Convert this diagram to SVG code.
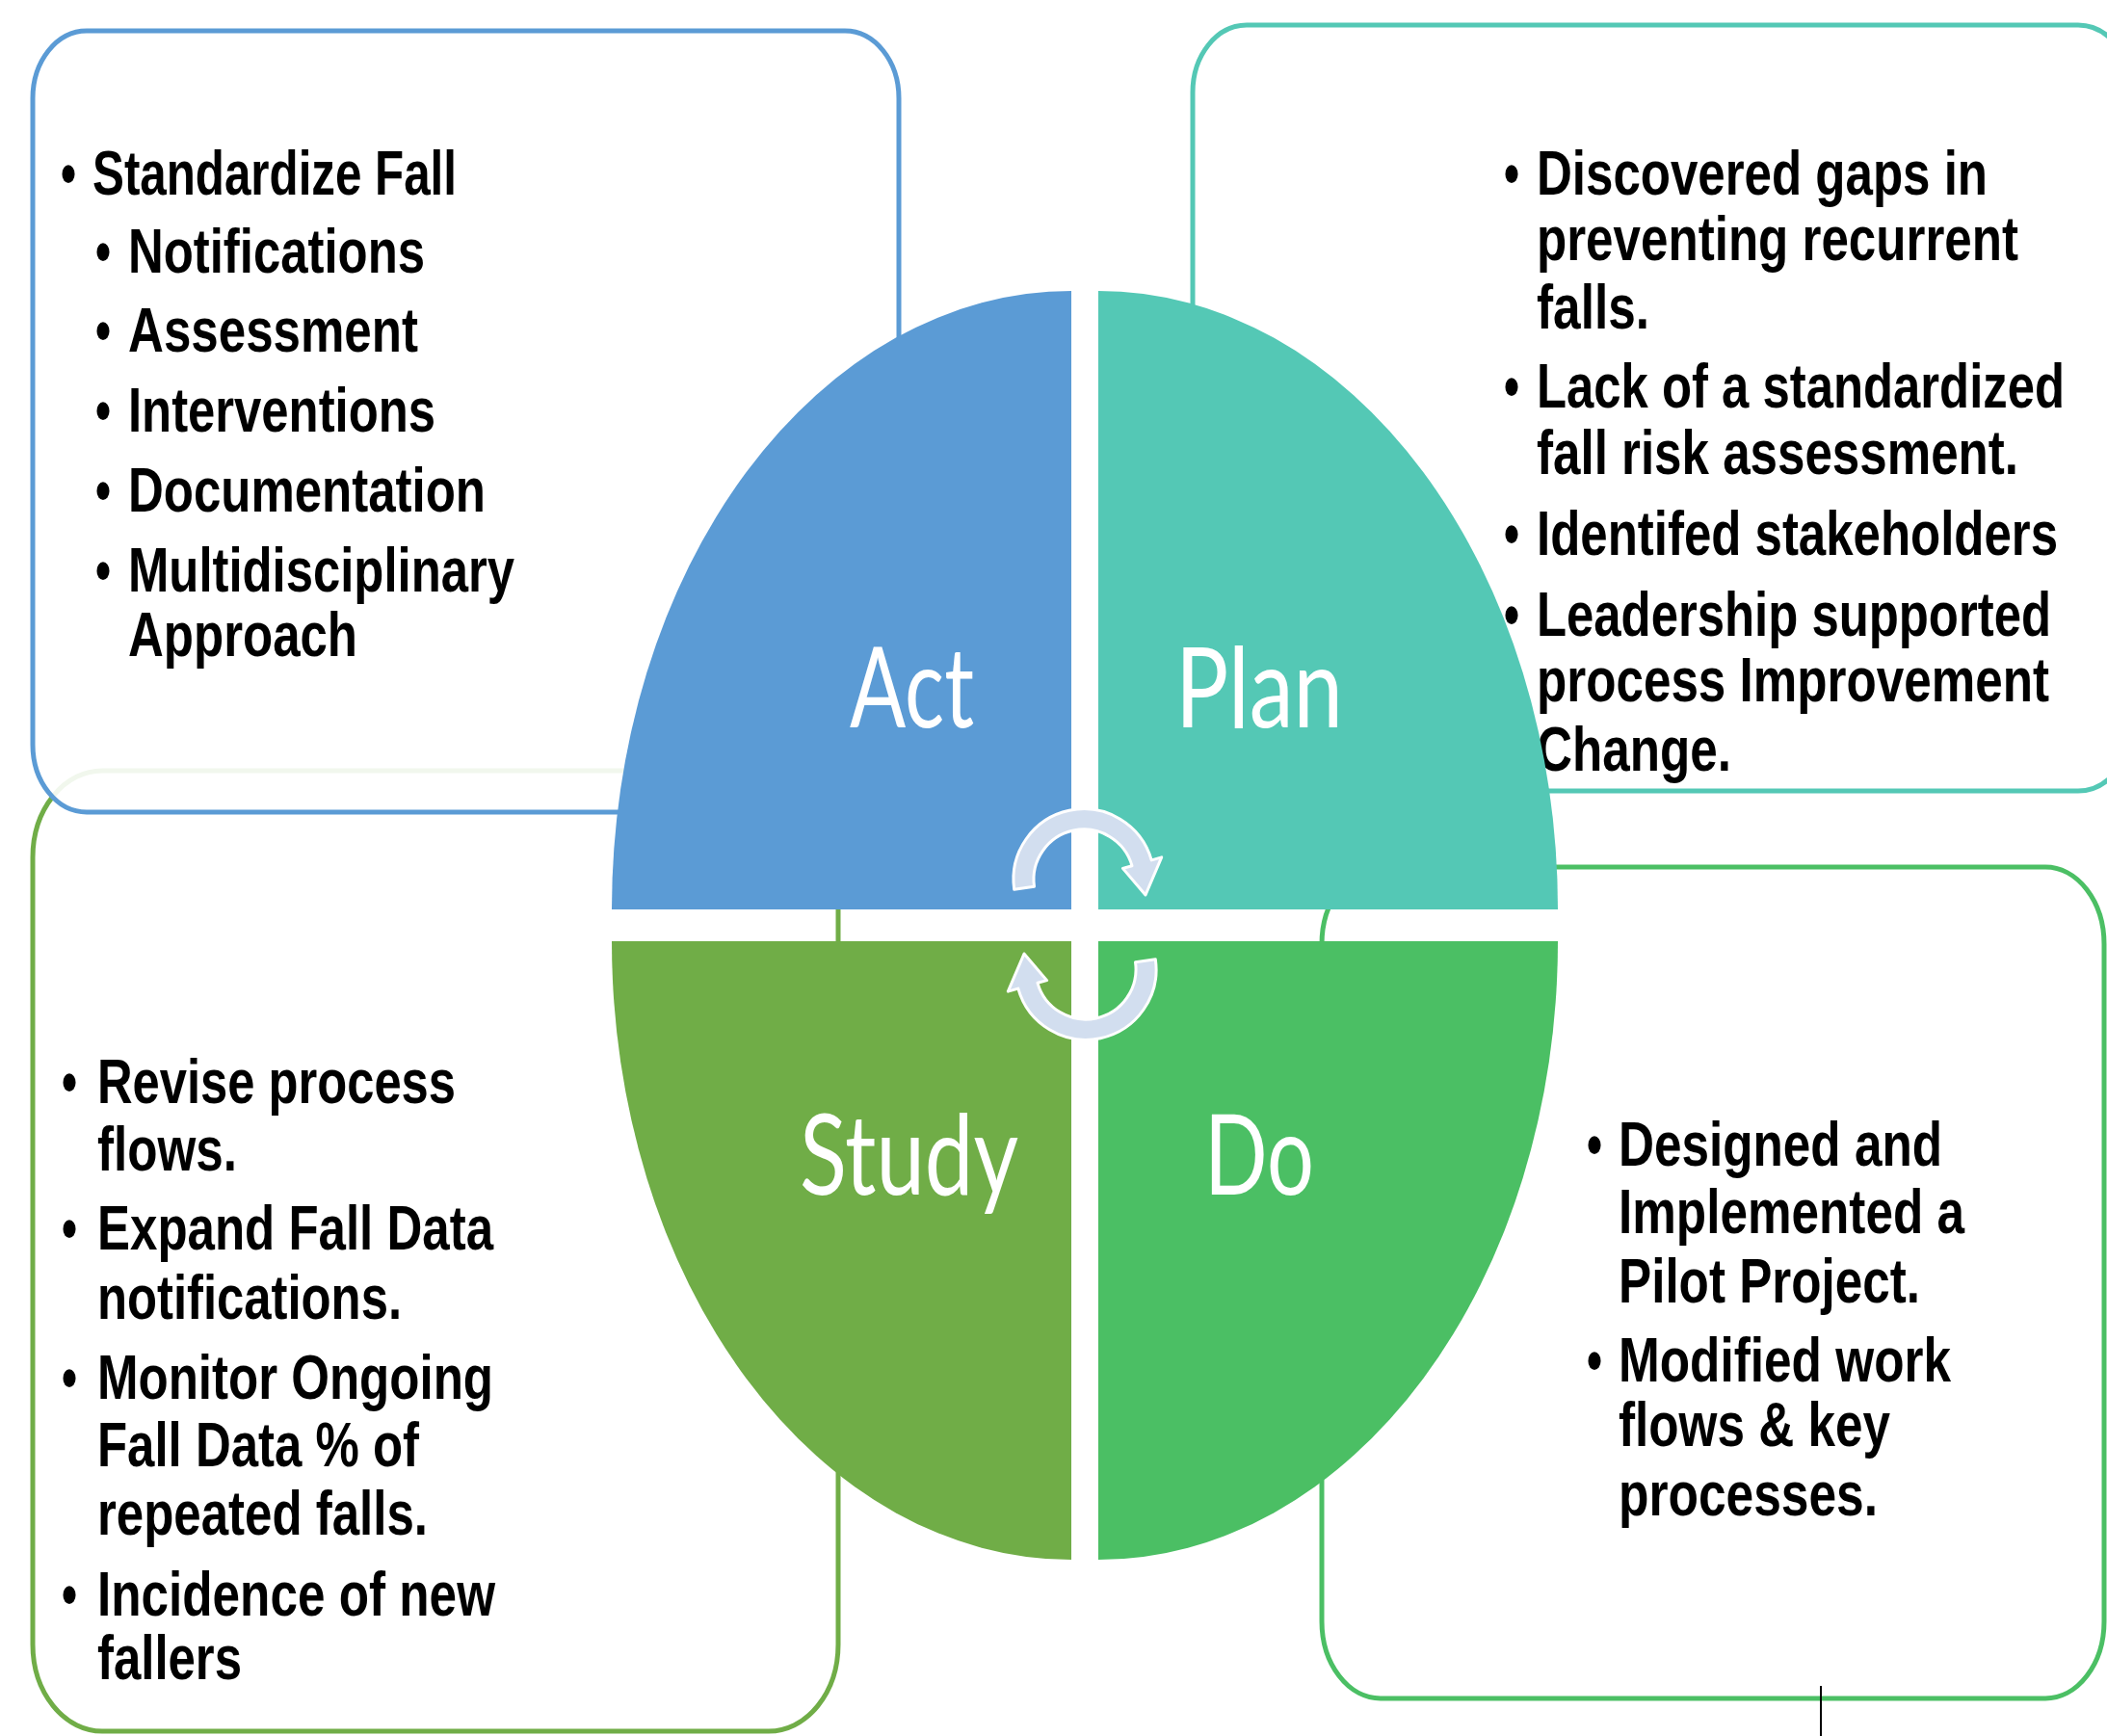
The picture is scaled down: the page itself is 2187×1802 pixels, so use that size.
<svg xmlns="http://www.w3.org/2000/svg" width="2187" height="1802" viewBox="0 0 2187 1802">
  <defs>
    <style>
      .box { stroke-width: 5; }
      .t { font-family: "Liberation Sans", Arial, sans-serif; font-weight: bold; font-size: 64px; fill: #000; }
      .dot { font-family: "Liberation Sans", Arial, sans-serif; font-weight: bold; font-size: 64px; fill: #000; text-anchor: middle; }
      .lbl { font-family: Lato, "Open Sans", sans-serif; font-size: 117px; fill: #fff; }
      .cyc { fill: #D2DEEF; stroke: #fff; stroke-width: 3; stroke-linejoin: round; }
    </style>
  </defs>

  <rect width="2187" height="1802" fill="#fff"/>

  <!-- Study: lower-left text panel (drawn first, the Act panel overlaps its top edge) -->
  <g id="panel-study">
    <rect class="box" x="34" y="800" width="836" height="997" rx="72" ry="90" fill="none" stroke="#70AD47"/>
    <text class="dot" x="72" y="1145" textLength="16" lengthAdjust="spacingAndGlyphs">•</text>
    <text class="t" x="101" y="1145" textLength="372" lengthAdjust="spacingAndGlyphs">Revise process</text>
    <text class="t" x="101" y="1215" textLength="145" lengthAdjust="spacingAndGlyphs">flows.</text>
    <text class="dot" x="72" y="1297" textLength="16" lengthAdjust="spacingAndGlyphs">•</text>
    <text class="t" x="101" y="1297" textLength="411" lengthAdjust="spacingAndGlyphs">Expand Fall Data</text>
    <text class="t" x="101" y="1369" textLength="316" lengthAdjust="spacingAndGlyphs">notifications.</text>
    <text class="dot" x="72" y="1452" textLength="16" lengthAdjust="spacingAndGlyphs">•</text>
    <text class="t" x="101" y="1452" textLength="411" lengthAdjust="spacingAndGlyphs">Monitor Ongoing</text>
    <text class="t" x="101" y="1522" textLength="334" lengthAdjust="spacingAndGlyphs">Fall Data % of</text>
    <text class="t" x="101" y="1593" textLength="343" lengthAdjust="spacingAndGlyphs">repeated falls.</text>
    <text class="dot" x="72" y="1677" textLength="16" lengthAdjust="spacingAndGlyphs">•</text>
    <text class="t" x="101" y="1677" textLength="413" lengthAdjust="spacingAndGlyphs">Incidence of new</text>
    <text class="t" x="101" y="1743" textLength="150" lengthAdjust="spacingAndGlyphs">fallers</text>
  </g>

  <!-- Act: upper-left text panel, slightly translucent white fill -->
  <g id="panel-act">
    <rect class="box" x="34" y="32" width="899" height="811" rx="56" ry="70" fill="#fff" fill-opacity="0.9" stroke="#5B9BD5"/>
    <text class="dot" x="71" y="202" textLength="16" lengthAdjust="spacingAndGlyphs">•</text>
    <text class="t" x="96" y="202" textLength="378" lengthAdjust="spacingAndGlyphs">Standardize Fall</text>
    <text class="dot" x="107" y="283" textLength="16" lengthAdjust="spacingAndGlyphs">•</text>
    <text class="t" x="133" y="283" textLength="308" lengthAdjust="spacingAndGlyphs">Notifications</text>
    <text class="dot" x="107" y="365" textLength="16" lengthAdjust="spacingAndGlyphs">•</text>
    <text class="t" x="133" y="365" textLength="301" lengthAdjust="spacingAndGlyphs">Assessment</text>
    <text class="dot" x="107" y="448" textLength="16" lengthAdjust="spacingAndGlyphs">•</text>
    <text class="t" x="133" y="448" textLength="319" lengthAdjust="spacingAndGlyphs">Interventions</text>
    <text class="dot" x="107" y="531" textLength="16" lengthAdjust="spacingAndGlyphs">•</text>
    <text class="t" x="133" y="531" textLength="371" lengthAdjust="spacingAndGlyphs">Documentation</text>
    <text class="dot" x="107" y="614" textLength="16" lengthAdjust="spacingAndGlyphs">•</text>
    <text class="t" x="133" y="614" textLength="401" lengthAdjust="spacingAndGlyphs">Multidisciplinary</text>
    <text class="t" x="133" y="681" textLength="238" lengthAdjust="spacingAndGlyphs">Approach</text>
  </g>

  <!-- Plan: upper-right text panel -->
  <g id="panel-plan">
    <rect class="box" x="1238" y="26" width="975" height="795" rx="56" ry="70" fill="none" stroke="#54C8B5"/>
    <text class="dot" x="1569" y="202" textLength="16" lengthAdjust="spacingAndGlyphs">•</text>
    <text class="t" x="1595" y="202" textLength="468" lengthAdjust="spacingAndGlyphs">Discovered gaps in</text>
    <text class="t" x="1595" y="270" textLength="500" lengthAdjust="spacingAndGlyphs">preventing recurrent</text>
    <text class="t" x="1595" y="341" textLength="117" lengthAdjust="spacingAndGlyphs">falls.</text>
    <text class="dot" x="1569" y="423" textLength="16" lengthAdjust="spacingAndGlyphs">•</text>
    <text class="t" x="1595" y="423" textLength="548" lengthAdjust="spacingAndGlyphs">Lack of a standardized</text>
    <text class="t" x="1595" y="492" textLength="500" lengthAdjust="spacingAndGlyphs">fall risk assessment.</text>
    <text class="dot" x="1569" y="576" textLength="16" lengthAdjust="spacingAndGlyphs">•</text>
    <text class="t" x="1595" y="576" textLength="541" lengthAdjust="spacingAndGlyphs">Identifed stakeholders</text>
    <text class="dot" x="1569" y="660" textLength="16" lengthAdjust="spacingAndGlyphs">•</text>
    <text class="t" x="1595" y="660" textLength="534" lengthAdjust="spacingAndGlyphs">Leadership supported</text>
    <text class="t" x="1595" y="728" textLength="532" lengthAdjust="spacingAndGlyphs">process Improvement</text>
    <text class="t" x="1595" y="800" textLength="202" lengthAdjust="spacingAndGlyphs">Change.</text>
  </g>

  <!-- Do: lower-right text panel -->
  <g id="panel-do">
    <rect class="box" x="1372" y="900" width="812" height="863" rx="61" ry="80" fill="none" stroke="#4BBF64"/>
    <text class="dot" x="1655" y="1210" textLength="16" lengthAdjust="spacingAndGlyphs">•</text>
    <text class="t" x="1680" y="1210" textLength="336" lengthAdjust="spacingAndGlyphs">Designed and</text>
    <text class="t" x="1680" y="1280" textLength="359" lengthAdjust="spacingAndGlyphs">Implemented a</text>
    <text class="t" x="1680" y="1352" textLength="313" lengthAdjust="spacingAndGlyphs">Pilot Project.</text>
    <text class="dot" x="1655" y="1434" textLength="16" lengthAdjust="spacingAndGlyphs">•</text>
    <text class="t" x="1680" y="1434" textLength="345" lengthAdjust="spacingAndGlyphs">Modified work</text>
    <text class="t" x="1680" y="1501" textLength="282" lengthAdjust="spacingAndGlyphs">flows &amp; key</text>
    <text class="t" x="1680" y="1573" textLength="269" lengthAdjust="spacingAndGlyphs">processes.</text>
  </g>

  <!-- central cycle: four quarter-ellipse segments -->
  <g id="node-act">
    <path d="M1112,944 L635,944 A477,642 0 0 1 1112,302 Z" fill="#5B9BD5"/>
    <text class="lbl" x="882" y="755" textLength="129" lengthAdjust="spacingAndGlyphs">Act</text>
  </g>
  <g id="node-plan">
    <path d="M1140,944 L1140,302 A477,642 0 0 1 1617,944 Z" fill="#54C8B5"/>
    <text class="lbl" x="1220" y="755" textLength="174" lengthAdjust="spacingAndGlyphs">Plan</text>
  </g>
  <g id="node-study">
    <path d="M1112,977 L1112,1619 A477,642 0 0 1 635,977 Z" fill="#70AD47"/>
    <text class="lbl" x="830" y="1240" textLength="227" lengthAdjust="spacingAndGlyphs">Study</text>
  </g>
  <g id="node-do">
    <path d="M1140,977 L1617,977 A477,642 0 0 1 1140,1619 Z" fill="#4BBF64"/>
    <text class="lbl" x="1250" y="1240" textLength="114" lengthAdjust="spacingAndGlyphs">Do</text>
  </g>

  <!-- cycle arrows between the segments -->
  <g id="connectors">
    <path class="cyc" d="M1052.7,923.2 A73,73 0 0 1 1195.2,892.9 L1205.7,889.9 L1189,929 L1165.4,901.4 L1175,898.7 A52,52 0 0 0 1073.5,920.2 Z"/>
    <path class="cyc" transform="rotate(180 1126 959.5)" d="M1052.7,923.2 A73,73 0 0 1 1195.2,892.9 L1205.7,889.9 L1189,929 L1165.4,901.4 L1175,898.7 A52,52 0 0 0 1073.5,920.2 Z"/>
  </g>

  <!-- thin rule at the bottom edge -->
  <line x1="1890" y1="1750" x2="1890" y2="1802" stroke="#000" stroke-width="2"/>
</svg>
